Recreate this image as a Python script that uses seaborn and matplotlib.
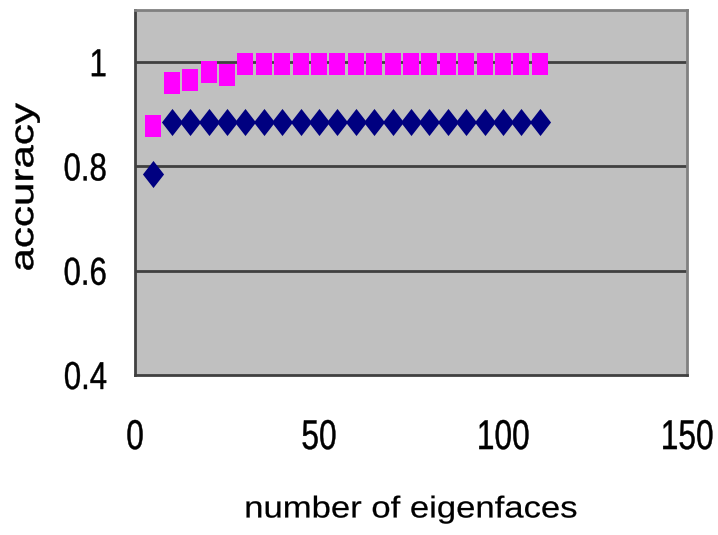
import matplotlib
matplotlib.use("Agg")
import matplotlib.pyplot as plt
import seaborn as sns
import pandas as pd
from matplotlib.patheffects import AbstractPathEffect
from matplotlib.transforms import Affine2D

eigenfaces = [5, 10, 15, 20, 25, 30, 35, 40, 45, 50, 55, 60, 65, 70, 75, 80, 85, 90, 95, 100, 105, 110]
acc_diamond = [0.785, 0.885, 0.885, 0.885, 0.885, 0.885, 0.885, 0.885, 0.885, 0.885, 0.885,
               0.885, 0.885, 0.885, 0.885, 0.885, 0.885, 0.885, 0.885, 0.885, 0.885, 0.885]
acc_square = [0.877, 0.960, 0.965, 0.982, 0.975, 0.997, 0.997, 0.997, 0.997, 0.997, 0.997,
              0.997, 0.997, 0.997, 0.997, 0.997, 0.997, 0.997, 0.997, 0.997, 0.997, 0.997]
y_ticks = [0.4, 0.6, 0.8, 1.0]
y_tick_labels = ["0.4", "0.6", "0.8", "1"]
x_ticks = [0, 50, 100, 150]
x_tick_labels = ["0", "50", "100", "150"]


class Stretch(AbstractPathEffect):
    """Scale text horizontally (along its baseline) about an anchor, optionally embolden."""
    def __init__(self, sx=1.0, anchor="center", stroke=0.0):
        super().__init__()
        self.sx = sx
        self.anchor = anchor
        self.stroke = stroke

    def draw_path(self, renderer, gc, tpath, affine, rgbFace=None):
        ext = tpath.get_extents()
        if self.anchor == "center":
            cx = (ext.x0 + ext.x1) / 2
        elif self.anchor == "right":
            cx = ext.x1
        else:
            cx = ext.x0
        t = Affine2D().translate(-cx, 0).scale(self.sx, 1.0).translate(cx, 0) + affine
        if self.stroke > 0 and rgbFace is not None:
            gc0 = renderer.new_gc()
            gc0.copy_properties(gc)
            gc0.set_linewidth(self.stroke)
            gc0.set_foreground(rgbFace)
            gc0.set_joinstyle("round")
            renderer.draw_path(gc0, tpath, t, rgbFace)
            gc0.restore()
        else:
            renderer.draw_path(gc, tpath, t, rgbFace)


sns.set_style("white")
plt.rcParams['font.family'] = ['Liberation Sans', 'DejaVu Sans']

fig = plt.figure(figsize=(7.18, 5.35), dpi=100)
ax = fig.add_axes([135/718, 1 - 375/535, (687-135)/718, (375-10)/535])
ax.set_facecolor("#C0C0C0")

df = pd.DataFrame({"x": eigenfaces, "d": acc_diamond, "s": acc_square})

diamond = [(0, 1), (0.78, 0), (0, -1), (-0.78, 0), (0, 1)]
rect = [(-0.77, -1), (0.77, -1), (0.77, 1), (-0.77, 1), (-0.77, -1)]

sns.scatterplot(data=df, x="x", y="s", marker=rect, s=15.8**2, color="#FF00FF",
                linewidth=0, ax=ax, zorder=3)
sns.scatterplot(data=df, x="x", y="d", marker=diamond, s=19.5**2, color="#000080",
                linewidth=0, ax=ax, zorder=4)

ax.set_xlim(0, 150)
ax.set_ylim(0.4, 1.1)
ax.set_yticks(y_ticks)
ax.set_yticklabels(y_tick_labels)
ax.set_xticks(x_ticks)
ax.set_xticklabels(x_tick_labels)
for yv in y_ticks[1:]:
    ax.axhline(yv, color="#404040", lw=2, zorder=1)

ax.tick_params(axis="both", direction="in", length=5, width=1.2, color="#404040",
               labelcolor="black")
ax.tick_params(axis="x", labelsize=30, pad=31)
ax.tick_params(axis="y", labelsize=28, pad=20)

for side in ["left", "bottom"]:
    ax.spines[side].set_color("#404040")
    ax.spines[side].set_linewidth(2)
for side in ["top", "right"]:
    ax.spines[side].set_color("#808080")
    ax.spines[side].set_linewidth(2)

ax.set_xlabel("number of eigenfaces", fontsize=21.7, color="black")
ax.xaxis.set_label_coords(0.5, -0.33)
ax.set_ylabel("accuracy", fontsize=23.5, color="black")
ax.yaxis.set_label_coords(-0.172, 0.515)

ax.xaxis.label.set_path_effects([Stretch(1.15, "center", stroke=0.15)])
ax.yaxis.label.set_path_effects([Stretch(1.29, "center", stroke=0.3)])

fig.canvas.draw()
for lbl in ax.get_xticklabels():
    lbl.set_path_effects([Stretch(0.76, "center", stroke=0.3)])
for lbl in ax.get_yticklabels():
    lbl.set_path_effects([Stretch(0.8, "right", stroke=0.3)])

fig.savefig("out.png", dpi=100, facecolor="white")
